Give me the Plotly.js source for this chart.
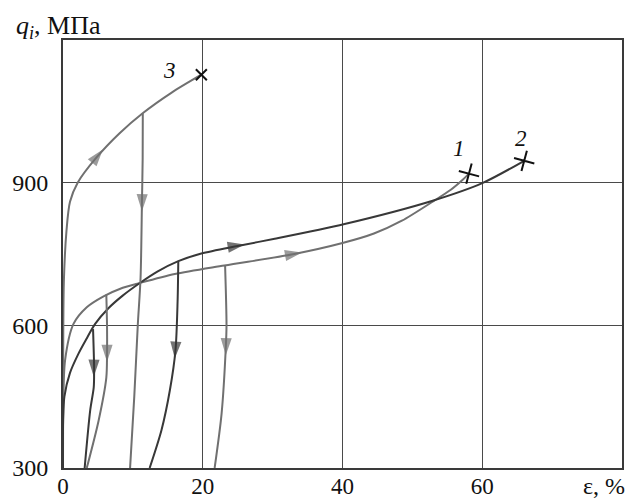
<!DOCTYPE html>
<html>
<head>
<meta charset="utf-8">
<script src="https://cdn.plot.ly/plotly-3.0.1.min.js"></script>
<style>
  html, body { margin: 0; padding: 0; background: #fff; }
  #chart { width: 635px; height: 499px; }
</style>
</head>
<body>
<div id="chart"></div>
<script>
// ---- data ----
// loading curves
const curve1X = [0, 0.02, 0.3, 1.5, 3.4, 5.8, 8.2, 11, 16, 23.1, 33.1, 40, 44.5, 48.5, 52.9, 55.5, 57.2, 58.1];
const curve1Y = [300, 420, 527, 603, 638, 661, 677, 689, 708, 726, 750, 773, 793, 820, 860, 885, 906, 919];
const curve2X = [0, 0.02, 0.2, 1, 2.2, 3.3, 4.6, 6.5, 8.5, 11, 13.5, 16.5, 19.8, 25, 30.3, 40.3, 52.9, 60, 66];
const curve2Y = [300, 400, 450, 500, 540, 570, 603, 636, 662, 689, 713, 735, 751, 767, 782, 813, 862, 899, 946];
const curve3X = [0, 0.02, 0.12, 0.5, 1, 2.1, 4.8, 8.1, 11.4, 15.5, 19.8];
const curve3Y = [300, 500, 690, 799, 860, 900, 953, 1004, 1046, 1089, 1127];
// unloading branches
const unload3X = [11.42, 11.4, 11.3, 11.1, 10.7, 10.2, 9.6];
const unload3Y = [1046, 950, 860, 700, 600, 450, 300];
const unloadD1X = [4.3, 4.45, 4.4, 3.9, 3.1];
const unloadD1Y = [592, 510, 470, 422, 300];
const unloadL1X = [6.2, 6.3, 6.3, 6.2, 5.1, 3.4];
const unloadL1Y = [665, 600, 540, 490, 400, 300];
const unloadD2X = [16.5, 16.4, 16.1, 15.3, 14.1, 12.4];
const unloadD2Y = [735, 650, 548, 464, 380, 300];
const unloadL2X = [23.2, 23.4, 23.3, 22.7, 21.7];
const unloadL2Y = [725, 600, 554, 415, 300];
// direction arrows: tail -> tip
const arrowTailX = [4.4, 11.35, 22.0, 30.0, 4.45, 6.3, 16.3, 23.4];
const arrowTailY = [946, 900, 760, 742, 540, 580, 600, 600];
const arrowTipX  = [5.7, 11.3, 26.0, 34.2, 4.4, 6.3, 16.0, 23.3];
const arrowTipY  = [970, 840, 770, 753, 492, 523, 530, 537];
const arrowGroup = ['light', 'light', 'dark', 'light', 'dark', 'light', 'dark', 'light'];
// end points (fracture)
const endX = [58.1, 66, 19.8];
const endY = [919, 946, 1127];
const endLabels = ['1', '2', '3'];
const labelX = [56.7, 65.5, 15.3];
const labelY = [971, 992, 1135];
// axes
const xTickVals = [0, 20, 40, 60];
const xTickText = ['0', '20', '40', '60'];
const yTickVals = [300, 600, 900];
const yTickText = ['300', '600', '900'];

// ---- styles ----
const LIGHT = '#707070';
const DARK = '#383838';
const FONT = 'Liberation Serif, Times New Roman, serif';

function line(x, y, color) {
  return { x: x, y: y, type: 'scatter', mode: 'lines',
    line: { color: color, width: 2, shape: 'spline', smoothing: 0.8 },
    hoverinfo: 'skip', showlegend: false };
}

const traces = [
  line(curve3X, curve3Y, LIGHT),
  line(curve1X, curve1Y, LIGHT),
  line(curve2X, curve2Y, DARK),
  line(unload3X, unload3Y, LIGHT),
  line(unloadD1X, unloadD1Y, DARK),
  line(unloadL1X, unloadL1Y, LIGHT),
  line(unloadD2X, unloadD2Y, DARK),
  line(unloadL2X, unloadL2Y, LIGHT)
];

for (let i = 0; i < arrowTipX.length; i++) {
  const c = arrowGroup[i] === 'dark' ? DARK : LIGHT;
  traces.push({
    x: [arrowTailX[i], arrowTipX[i]], y: [arrowTailY[i], arrowTipY[i]],
    type: 'scatter', mode: 'markers', cliponaxis: false,
    marker: { symbol: 'arrow', angleref: 'previous', size: [0, 18], color: c,
      line: { width: 0 } },
    hoverinfo: 'skip', showlegend: false
  });
}

traces.push({
  x: endX.slice(0, 2), y: endY.slice(0, 2), type: 'scatter', mode: 'markers',
  marker: { symbol: 'cross-thin', size: 15, angle: 15, line: { color: '#111', width: 2 } },
  hoverinfo: 'skip', showlegend: false, cliponaxis: false
});
traces.push({
  x: endX.slice(2), y: endY.slice(2), type: 'scatter', mode: 'markers',
  marker: { symbol: 'x-thin', size: 11, line: { color: '#111', width: 2 } },
  hoverinfo: 'skip', showlegend: false, cliponaxis: false
});

const annotations = endLabels.map((t, i) => ({
  x: labelX[i], y: labelY[i], xref: 'x', yref: 'y', text: '<i>' + t + '</i>',
  showarrow: false, font: { family: FONT, size: 23, color: '#111' }
}));
annotations.push({
  xref: 'paper', yref: 'paper', x: -0.088, y: 1.03, xanchor: 'left', yanchor: 'middle',
  text: '<i>q</i><sub><i>i</i></sub>, МПа', showarrow: false,
  font: { family: FONT, size: 26, color: '#111' }
});
annotations.push({
  xref: 'paper', yref: 'paper', x: 1.009, y: -0.043, xanchor: 'right', yanchor: 'middle',
  text: 'ε, %', showarrow: false,
  font: { family: FONT, size: 24, color: '#111' }
});

const layout = {
  width: 635, height: 499,
  margin: { l: 63, r: 13, t: 40, b: 31, pad: 0 },
  paper_bgcolor: '#fff', plot_bgcolor: '#fff',
  showlegend: false,
  font: { family: FONT, size: 24, color: '#111' },
  xaxis: {
    range: [0, 80], tickvals: xTickVals, ticktext: xTickText,
    showgrid: true, gridcolor: '#4a4a4a', gridwidth: 1,
    zeroline: false, showline: true, mirror: true, linecolor: '#3a3a3a', linewidth: 2,
    ticks: '', ticklabelstandoff: -4,
    tickfont: { family: FONT, size: 23, color: '#111' }, fixedrange: true
  },
  yaxis: {
    range: [300, 1200], tickvals: yTickVals, ticktext: yTickText,
    showgrid: true, gridcolor: '#4a4a4a', gridwidth: 1,
    zeroline: false, showline: true, mirror: true, linecolor: '#3a3a3a', linewidth: 2,
    ticks: '', ticklabelstandoff: 8,
    tickfont: { family: FONT, size: 24, color: '#111' }, fixedrange: true
  },
  annotations: annotations
};

Plotly.newPlot('chart', traces, layout, { displayModeBar: false, staticPlot: true });
</script>
</body>
</html>
